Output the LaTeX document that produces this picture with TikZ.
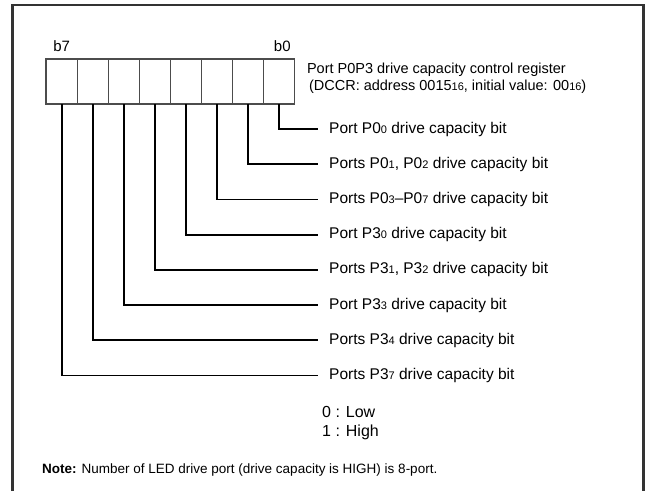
\documentclass[tikz,border=0pt]{standalone}
\usepackage{fontspec}
\setmainfont{Liberation Sans}
\usetikzlibrary{positioning}
\newcommand{\lo}[1]{{\fontsize{11}{11}\selectfont #1}}

\begin{document}
\begin{tikzpicture}[x=1pt, y=-1pt,
  frame/.style={draw=black!80, line width=2.5pt},
  bitbox/.style={draw=black!70, line width=1.2pt, minimum width=31.1pt, minimum height=45pt, inner sep=0pt, outer sep=0pt},
  bitlab/.style={font=\fontsize{15}{15}\selectfont, inner sep=0pt},
  regname/.style={align=left, font=\fontsize{14.5}{17}\selectfont, inner sep=0pt, anchor=west},
  desc/.style={anchor=west, font=\fontsize{15.5}{16}\selectfont, inner xsep=11pt, inner ysep=0pt},
  lead/.style={line width=1.8pt},
  legend/.style={align=left, anchor=west, font=\fontsize{16}{19}\selectfont, inner sep=0pt},
  note/.style={anchor=west, font=\fontsize{13.5}{16}\selectfont, inner sep=0pt}
]
\useasboundingbox (0,0) rectangle (645,491);

% outer frame, open at the bottom
\draw[frame] (12.5,491) |- (643.5,5) -- (643.5,491);

% the register, b7 on the left
\node[bitbox] (r7) at (61.6,81.5) {};
\foreach \i [evaluate=\i as \j using int(\i+1)] in {6,...,0}
  \node[bitbox, right=0pt of r\j] (r\i) {};
\node[bitlab, above=7pt of r7] (b7) {b7};
\node[bitlab, above=7pt of r0, xshift=3pt] (b0) {b0};
\node[regname, right=12pt of r0, yshift=3pt] (reg) {Port P0P3 drive capacity control register\\
\hspace{2pt}(DCCR: address 0015\lo{16}, initial value: 00\lo{16})};

% bit descriptions
\node[desc] (l0) at (318,129) {Port P0\lo{0} drive capacity bit};
\node[desc] (l1) at (318,164.2) {Ports P0\lo{1}, P0\lo{2} drive capacity bit};
\node[desc] (l2) at (318,199.4) {Ports P0\lo{3}--P0\lo{7} drive capacity bit};
\node[desc] (l3) at (318,234.6) {Port P3\lo{0} drive capacity bit};
\node[desc] (l4) at (318,269.8) {Ports P3\lo{1}, P3\lo{2} drive capacity bit};
\node[desc] (l5) at (318,305) {Port P3\lo{3} drive capacity bit};
\node[desc] (l6) at (318,340.2) {Ports P3\lo{4} drive capacity bit};
\node[desc] (l7) at (318,375.4) {Ports P3\lo{7} drive capacity bit};
\foreach \i in {0,...,7}
  \draw[lead] (r\i.south) |- (l\i.west);

% values and note
\node[legend] (vals) at (322,423.5) {0 : Low\\1 : High};
\node[note] (nb) at (42,470) {\textbf{Note:} Number of LED drive port (drive capacity is HIGH) is 8-port.};
\end{tikzpicture}
\end{document}
